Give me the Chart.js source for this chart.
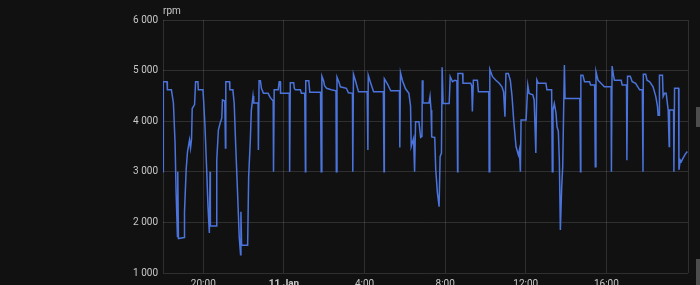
<!DOCTYPE html>
<html>
<head>
<meta charset="utf-8">
<script src="https://cdn.jsdelivr.net/npm/chart.js@4/dist/chart.umd.min.js"></script>
<style>
  html, body { margin: 0; padding: 0; background: #111111; }
  #wrap { position: relative; width: 700px; height: 285px; overflow: hidden; background: #111111; }
  .knob { position: absolute; left: 696px; width: 4px; background: #4d4d4d; }
</style>
</head>
<body>
<div id="wrap">
  <canvas id="c" width="700" height="285"></canvas>
  <div class="knob" style="top:107px;height:20px"></div>
  <div class="knob" style="top:259px;height:26px"></div>
</div>
<script>
// ---- data (10 Jan 18:00 -> 11 Jan 20:00) ----
const unitLabel = "rpm";
const times = [
"18:00","18:01","18:12","18:13","18:25","18:31","18:36","18:39","18:43","18:44","18:46",
"19:03","19:04","19:09","19:13","19:19","19:22","19:25","19:27","19:34","19:37",
"19:44","19:45","19:59","20:01","20:05","20:10","20:14","20:18","20:20","20:21",
"20:38","20:40","20:45","20:50","20:55","20:57","21:04","21:06","21:07","21:18",
"21:19","21:28","21:32","21:36","21:42","21:47","21:51","21:52","21:54","22:12",
"22:15","22:20","22:23","22:28","22:30","22:43","22:44","22:46","22:50","22:53",
"22:59","23:13","23:19","23:28","23:29","23:31","23:43","23:46","23:49","23:50",
"00:16","00:17","00:19","00:29","00:31","00:34","00:49","00:52","01:02","01:04",
"01:05","01:14","01:17","01:49","01:51","01:53","01:58","02:01","02:07","02:21",
"02:35","02:36","02:38","02:44","02:48","03:06","03:12","03:24","03:25","03:27",
"03:33","03:42","04:08","04:10","04:11","04:18","04:27","04:56","04:58","04:59",
"05:08","05:18","05:44","05:45","05:47","05:53","06:02","06:12","06:17","06:19",
"06:26","06:29","06:32","06:42","06:47","06:51","06:52","06:54","07:12","07:15",
"07:18","07:20","07:29","07:32","07:37","07:42","07:45","07:49","07:51","07:54",
"08:12","08:15","08:22","08:29","08:35","08:37","08:38","08:52","08:53","09:16",
"09:19","09:21","09:24","09:36","09:39","10:10","10:11","10:13","10:21","10:31",
"10:41","10:49","10:54","10:58","11:01","11:08","11:14","11:19","11:24","11:31",
"11:38","11:41","11:44","11:46","12:01","12:06","12:10","12:21","12:25","12:30",
"12:33","12:37","13:00","13:03","13:17","13:19","13:21","13:25","13:30","13:33",
"13:37","13:40","13:43","13:47","13:50","13:53","13:55","13:57","14:41","14:43",
"14:44","14:50","14:55","15:10","15:13","15:25","15:27","15:29","15:35","15:44",
"15:54","16:14","16:15","16:17","16:21","16:24","16:44","16:47","17:00","17:01",
"17:03","17:11","17:17","17:27","17:39","17:47","17:49","17:50","17:57","18:01",
"18:09","18:19","18:27","18:32","18:34","18:37","18:38","18:47","18:49","18:53",
"18:58","19:04","19:07","19:08","19:20","19:21","19:23","19:35","19:36","19:40",
"19:43","19:49","19:55","20:01"
];
const rpm = [
3000,4780,4780,4620,4620,4360,3560,2600,1720,3000,1680,
1700,2200,3050,3400,3630,3470,3650,4250,4330,4780,
4780,4620,4620,4400,3900,3050,2300,1790,3000,1930,
1930,3230,3830,3960,4060,4420,4400,3470,4780,4780,
4620,4620,4350,3600,2580,1700,1360,2210,1550,1550,
2900,3630,4220,4500,4360,4360,3430,4800,4800,4650,
4550,4550,4470,4400,3000,4620,4620,4780,4780,4550,
4550,3000,4760,4760,4650,4620,4620,4550,4550,3000,
4800,4800,4570,4570,3000,4890,4800,4700,4650,4620,
4600,3000,4870,4770,4680,4650,4560,4550,3000,4930,
4800,4580,4580,3430,4910,4760,4580,4580,3000,4840,
4740,4600,4600,3480,4960,4800,4640,4550,4300,3500,
3660,3000,3990,3990,3680,3700,4810,4360,4360,4490,
4220,3690,3680,3040,2580,2310,3300,3370,5065,4350,
4350,4880,4780,4810,4800,3000,4945,4945,4750,4750,
4700,4190,4810,4810,4580,4580,3000,5025,4880,4810,
4750,4680,4580,4090,4945,4945,4810,4500,4025,3500,
3330,3430,3000,4025,4025,4715,4550,4520,4420,3370,
4815,4750,4750,4620,4620,3000,4220,4350,4160,3890,
3800,3230,1850,2710,3100,4320,5110,4450,4450,3000,
4910,4910,4780,4780,4715,4715,3100,4980,4810,4750,
4680,4680,3000,5090,4910,4810,4810,4715,4715,3230,
4890,4890,4780,4750,4620,4620,3000,4930,4930,4810,
4780,4680,4490,4300,4120,4120,4910,4910,4490,4550,
4550,4220,3500,4220,4220,3000,4650,4650,3040,3230,
3200,3280,3350,3400
];
// axis ticks: hours counted from 10 Jan 00:00
const xTickHours  = [20, 24, 28, 32, 36, 40];
const xTickLabels = ["20:00", "11 Jan", "4:00", "8:00", "12:00", "16:00"];
const xStartHour = 18, xEndHour = 44.05;
const yTicks = [1000, 2000, 3000, 4000, 5000, 6000];

// ---- build points ----
const points = [];
let dayOffset = 0, prev = -1;
for (let i = 0; i < Math.min(times.length, rpm.length); i++) {
  const [hh, mm] = times[i].split(":").map(Number);
  let h = hh + mm / 60;
  if (h + dayOffset < prev) dayOffset += 24;
  h += dayOffset;
  prev = h;
  points.push({ x: h, y: rpm[i] });
}

const fmtThousands = v => String(v).replace(/\B(?=(\d{3})+(?!\d))/g, " ");
const gridColor = "rgba(255,255,255,0.13)";
const tickColor = "#c8c8c8";
Chart.defaults.font.family = "Roboto, 'Noto Sans', sans-serif";

const unitPlugin = {
  id: "unitLabel",
  afterDraw(chart) {
    const { ctx, chartArea } = chart;
    ctx.save();
    ctx.fillStyle = tickColor;
    ctx.font = "10px Roboto, 'Noto Sans', sans-serif";
    ctx.textAlign = "left";
    ctx.textBaseline = "alphabetic";
    ctx.fillText(unitLabel, chartArea.left, chartArea.top - 6);
    ctx.restore();
  }
};

new Chart(document.getElementById("c"), {
  type: "line",
  data: {
    datasets: [{
      label: unitLabel,
      data: points,
      borderColor: "#4a73dc",
      borderWidth: 1.5,
      pointRadius: 0,
      tension: 0,
      fill: false
    }]
  },
  options: {
    responsive: false,
    animation: false,
    layout: { padding: { top: 20, right: 12, left: 0, bottom: 0 } },
    plugins: { legend: { display: false }, tooltip: { enabled: false } },
    scales: {
      x: {
        type: "linear",
        min: xStartHour,
        max: xEndHour,
        afterBuildTicks: s => {
          s.ticks = [{ value: xStartHour }].concat(xTickHours.map(v => ({ value: v })), [{ value: xEndHour }]);
        },
        afterFit: s => { s.height = 12; },
        grid: { color: gridColor, drawTicks: false },
        border: { display: false },
        ticks: {
          color: tickColor,
          padding: 5,
          maxRotation: 0,
          autoSkip: false,
          font: ctx => (ctx.tick && ctx.tick.value === 24) ? { size: 10, weight: "bold" } : { size: 10 },
          callback: v => {
            const i = xTickHours.indexOf(v);
            return i >= 0 ? xTickLabels[i] : "";
          }
        }
      },
      y: {
        min: yTicks[0],
        max: yTicks[yTicks.length - 1],
        afterBuildTicks: s => { s.ticks = yTicks.map(v => ({ value: v })); },
        afterFit: s => { s.width = 163; },
        grid: { color: gridColor, drawTicks: false },
        border: { display: false },
        ticks: {
          color: tickColor,
          padding: 5,
          font: { size: 10 },
          callback: v => fmtThousands(v)
        }
      }
    }
  },
  plugins: [unitPlugin]
});
</script>
</body>
</html>
